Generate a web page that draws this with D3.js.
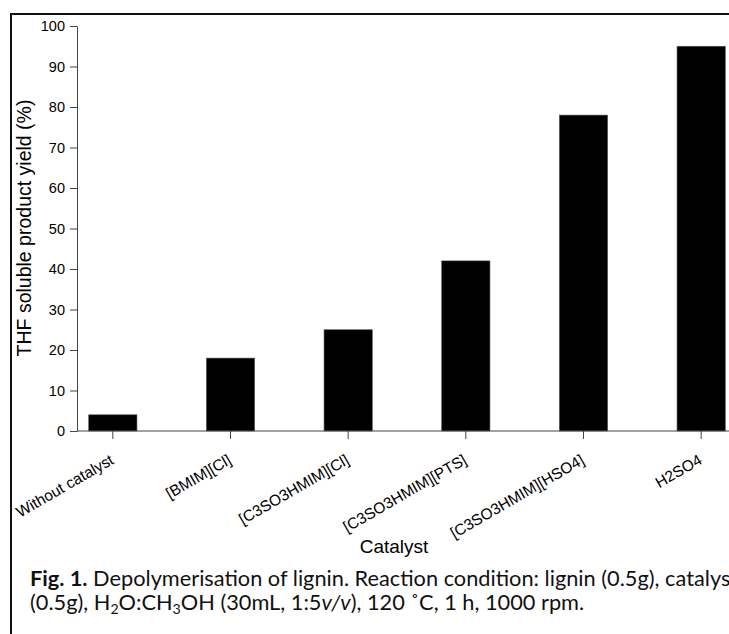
<!DOCTYPE html>
<html>
<head>
<meta charset="utf-8">
<script src="https://cdn.jsdelivr.net/npm/d3@7"></script>
<style>
    body { margin: 0; background: #fff; }
    svg { display: block; }
</style>
</head>
<body>
<script>
// data
const catalysts = ["Without catalyst", "[BMIM][Cl]", "[C3SO3HMIM][Cl]",
    "[C3SO3HMIM][PTS]", "[C3SO3HMIM][HSO4]", "H2SO4"];
const yields = [4, 18, 25, 42, 78, 95];
const yTicks = [0, 10, 20, 30, 40, 50, 60, 70, 80, 90, 100];

const width = 729;
const height = 634;
const axis_color = "#444";
const chart_font = "'Liberation Sans', Arial, sans-serif";
const caption_font = "Lato, 'Open Sans', sans-serif";

let svg = d3.select("body")
    .append("svg")
    .attr("width", width)
    .attr("height", height);

// frame (cut off on the right and bottom)
svg.append("path")
    .attr("d", "M11,634 V14 H729")
    .attr("fill", "none")
    .attr("stroke", "#111")
    .attr("stroke-width", 2);

let x = d3.scaleBand()
    .domain(catalysts)
    .range([54, 760])
    .paddingInner(0.59)
    .paddingOuter(0.295);

let y = d3.scaleLinear()
    .domain([0, 100])
    .range([431, 26]);

// bars
svg.selectAll(".bar")
    .data(catalysts)
    .enter()
    .append("rect")
    .attr("class", "bar")
    .attr("x", d => x(d))
    .attr("width", x.bandwidth())
    .attr("y", (d, i) => y(yields[i]))
    .attr("height", (d, i) => y(0) - y(yields[i]))
    .attr("fill", "#000")
    .attr("stroke", "#555")
    .attr("stroke-width", 0.6);

// y axis
let yAxis = svg.append("g")
    .attr("transform", "translate(77,0)")
    .call(d3.axisLeft(y).tickValues(yTicks).tickSize(7).tickPadding(5).tickSizeOuter(0));
yAxis.attr("font-size", null).attr("font-family", null);
yAxis.selectAll("path, line").attr("stroke", axis_color);
yAxis.selectAll("text")
    .attr("fill", "#000")
    .style("font-family", chart_font)
    .style("font-size", "14.5px");

// x axis
let xAxis = svg.append("g")
    .attr("transform", "translate(0,431)")
    .call(d3.axisBottom(x).tickSize(8).tickSizeOuter(0));
xAxis.attr("font-size", null).attr("font-family", null);
xAxis.select(".domain").remove();
xAxis.selectAll("line").attr("stroke", axis_color);
xAxis.append("line")
    .attr("x1", 77)
    .attr("x2", width)
    .attr("stroke", axis_color);
xAxis.selectAll(".tick text")
    .attr("fill", "#000")
    .attr("text-anchor", "end")
    .attr("x", 0)
    .attr("y", 0)
    .attr("dy", 0)
    .attr("transform", "translate(2,32) rotate(-30)")
    .style("font-family", chart_font)
    .style("font-size", "15.5px");

// axis titles
svg.append("text")
    .attr("transform", "translate(31,228) rotate(-90)")
    .attr("text-anchor", "middle")
    .style("font-family", chart_font)
    .style("font-size", "19.5px")
    .text("THF soluble product yield (%)");

svg.append("text")
    .attr("x", 394)
    .attr("y", 553)
    .attr("text-anchor", "middle")
    .style("font-family", chart_font)
    .style("font-size", "19px")
    .text("Catalyst");

// caption
let caption = svg.append("g")
    .style("font-family", caption_font)
    .attr("fill", "#111");

let line1 = caption.append("text")
    .attr("x", 30)
    .attr("y", 586);
line1.append("tspan").style("font-weight", "bold").text("Fig. 1.");
line1.append("tspan").text(" Depolymerisation of lignin. Reaction condition: lignin (0.5g), catalyst");

let line2 = caption.append("text")
    .attr("x", 30)
    .attr("y", 610);
line2.append("tspan").text("(0.5g), H");
line2.append("tspan").attr("dy", 4).style("font-size", "0.65em").text("2");
line2.append("tspan").attr("dy", -4).text("O:CH");
line2.append("tspan").attr("dy", 4).style("font-size", "0.65em").text("3");
line2.append("tspan").attr("dy", -4).text("OH (30mL, 1:5");
line2.append("tspan").style("font-style", "italic").text("v/v");
line2.append("tspan").text("), 120 ˚C, 1 h, 1000 rpm.");

// size the caption between the widths of the two lines in the figure
caption.style("font-size", "16px");
let w = line2.node().getComputedTextLength();
caption.style("font-size", (16 * 1.05 * 528 / w) + "px");
</script>
</body>
</html>
